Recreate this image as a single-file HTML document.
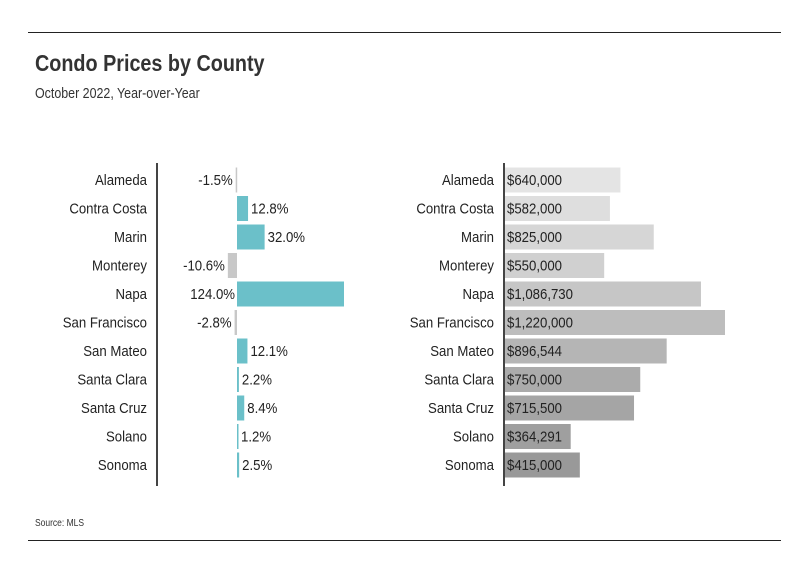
<!DOCTYPE html>
<html><head><meta charset="utf-8"><style>
body{margin:0;background:#fff;font-family:"Liberation Sans",sans-serif;color:#222}
#wrap{position:relative;width:801px;height:575px;overflow:hidden}
</style></head><body>
<div id="wrap">
<svg id="svg" width="801" height="575">
<line x1="28" y1="32.5" x2="781" y2="32.5" stroke="#222"/>
<line x1="28" y1="540.5" x2="781" y2="540.5" stroke="#222"/>
<text transform="translate(35,71) scale(0.86,1)" font-size="23" font-weight="bold" fill="#333">Condo Prices by County</text>
<text transform="translate(35,98) scale(0.83,1)" font-size="15" fill="#333">October 2022, Year-over-Year</text>
<text transform="translate(35,526) scale(0.85,1)" font-size="10" fill="#333">Source:  MLS</text>
<line x1="157" y1="163" x2="157" y2="486" stroke="#444" stroke-width="2"/>
<line x1="504" y1="163" x2="504" y2="486" stroke="#444" stroke-width="2"/>
<g id="g"></g>
</svg>
</div>
<script>
const counties=["Alameda","Contra Costa","Marin","Monterey","Napa","San Francisco","San Mateo","Santa Clara","Santa Cruz","Solano","Sonoma"];
const yoy=[-1.5,12.8,32.0,-10.6,124.0,-2.8,12.1,2.2,8.4,1.2,2.5];
const prices=[640000,582000,825000,550000,1086730,1220000,896544,750000,715500,364291,415000];
const g=document.getElementById('g');
const NS='http://www.w3.org/2000/svg';
const SX=0.88;
function y(i){return 180+i*28.5;}
function xPct(v){return 237+v*(107/124);}
function xPrice(v){return 505+v*(220/1220000);}
function mk(t,a){const e=document.createElementNS(NS,t);for(const k in a)e.setAttribute(k,a[k]);g.appendChild(e);return e;}
function txt(x,yy,s,anchor){const e=mk('text',{transform:'translate('+x+','+yy+') scale('+SX+',1)','font-size':15,'text-anchor':anchor,fill:'#222'});e.textContent=s;return e;}
const grays=["#e4e4e4","#dedede","#d6d6d6","#d0d0d0","#c6c6c6","#bdbdbd","#b5b5b5","#ababab","#a5a5a5","#9f9f9f","#999999"];
counties.forEach((c,i)=>{
  const cy=y(i);
  let t=txt(147,cy+5,c,'end');
  
  
  const v=yoy[i];const x0=xPct(0),x1=xPct(v);
  let r=mk('rect',{x:Math.min(x0,x1),y:cy-12.5,width:Math.max(1.5,Math.abs(x1-x0)),height:25,fill:v>=0?'#6bc0c9':'#c8c8c8'});
  
  
  const inside=v>=0 && x1>320;
  let lx=v>=0?(inside?x0-2:x1+3):Math.min(x0,x1)-3;
  let lt=txt(lx,cy+5,v.toFixed(1)+'%',(v>=0&&!inside)?'start':'end');
  
  
  let t2=txt(494,cy+5,c,'end');
  
  
  let r2=mk('rect',{x:505,y:cy-12.5,width:xPrice(prices[i])-505,height:25,fill:grays[i]});
  
  
  let pt=txt(507,cy+5,'$'+prices[i].toLocaleString('en-US'),'start');
  
  
});
</script>
</body></html>
